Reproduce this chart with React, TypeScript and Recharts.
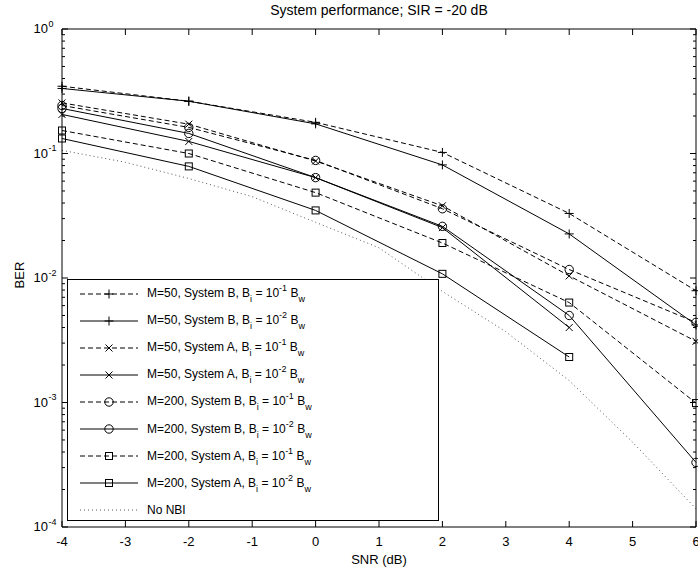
import { LineChart, Line, XAxis, YAxis, Legend } from 'recharts'

const FONT = '"Liberation Sans", Arial, Helvetica, sans-serif'

// SNR grid of the simulated curves and of the theory curve
const snrMarked = [-4, -2, 0, 2, 4, 6]
const snrNoNbi = [-4, -3, -2, -1, 0, 1, 2, 3, 4, 5, 6]

// BER
const m50B1 = [0.347, 0.263, 0.178, 0.102, 0.033, 0.0079]
const m50B2 = [0.333, 0.263, 0.173, 0.081, 0.0226, 0.0042]
const m50A1 = [0.255, 0.172, 0.087, 0.038, 0.0104, 0.0031]
const m50A2 = [0.206, 0.125, 0.064, 0.0254, 0.004, null]
const m200B1 = [0.243, 0.162, 0.088, 0.036, 0.0117, 0.0044]
const m200B2 = [0.23, 0.145, 0.064, 0.026, 0.005, 0.00033]
const m200A1 = [0.153, 0.1, 0.0485, 0.0191, 0.00635, 0.00099]
const m200A2 = [0.132, 0.0788, 0.0349, 0.0108, 0.00232, null]
const noNbi = [0.106, 0.085, 0.063, 0.045, 0.028, 0.0175, 0.0078, 0.0037, 0.0015, 0.00048, 0.00014]

const xTicks = [-4, -3, -2, -1, 0, 1, 2, 3, 4, 5, 6]
const yMajor = [1e-4, 1e-3, 1e-2, 1e-1, 1]
const yMinorSteps = [2, 3, 4, 5, 6, 7, 8, 9]
const yTicks = [
  ...yMajor.slice(0, -1).flatMap((d) => [d, ...yMinorSteps.map((m) => m * d)]),
  1,
]

type Shape = 'plus' | 'cross' | 'circle' | 'square'

const series: {
  key: string
  values: (number | null)[]
  m: string
  sys: string
  exp: string
  dashed: boolean
  shape: Shape
}[] = [
  { key: 'm50B1', values: m50B1, m: '50', sys: 'B', exp: '-1', dashed: true, shape: 'plus' },
  { key: 'm50B2', values: m50B2, m: '50', sys: 'B', exp: '-2', dashed: false, shape: 'plus' },
  { key: 'm50A1', values: m50A1, m: '50', sys: 'A', exp: '-1', dashed: true, shape: 'cross' },
  { key: 'm50A2', values: m50A2, m: '50', sys: 'A', exp: '-2', dashed: false, shape: 'cross' },
  { key: 'm200B1', values: m200B1, m: '200', sys: 'B', exp: '-1', dashed: true, shape: 'circle' },
  { key: 'm200B2', values: m200B2, m: '200', sys: 'B', exp: '-2', dashed: false, shape: 'circle' },
  { key: 'm200A1', values: m200A1, m: '200', sys: 'A', exp: '-1', dashed: true, shape: 'square' },
  { key: 'm200A2', values: m200A2, m: '200', sys: 'A', exp: '-2', dashed: false, shape: 'square' },
]

const data = snrNoNbi.map((x, i) => {
  const row: { [k: string]: number | null } = { snr: x, noNbi: noNbi[i] }
  const j = snrMarked.indexOf(x)
  series.forEach((s) => {
    row[s.key] = j >= 0 ? s.values[j] : null
  })
  return row
})

const DASH = '5 3'
const DOT = '1 3'

const Marker = ({ shape, cx, cy }: { shape: Shape; cx: number; cy: number }) => {
  const p = { stroke: '#000', strokeWidth: 1, fill: 'none' }
  if (shape === 'plus')
    return <path d={`M${cx - 4.5},${cy}H${cx + 4.5}M${cx},${cy - 4.5}V${cy + 4.5}`} {...p} />
  if (shape === 'cross')
    return (
      <path
        d={`M${cx - 3.5},${cy - 3.5}L${cx + 3.5},${cy + 3.5}M${cx - 3.5},${cy + 3.5}L${cx + 3.5},${cy - 3.5}`}
        {...p}
      />
    )
  if (shape === 'circle') return <circle cx={cx} cy={cy} r={4.2} {...p} />
  return <rect x={cx - 3.5} y={cy - 3.5} width={7} height={7} {...p} />
}

const dotFor = (shape: Shape, key: string) => (props: any) => {
  const { cx, cy, index, payload } = props
  if (payload == null || payload[key] == null || typeof cy !== 'number')
    return <g key={`${key}-${index}`} />
  return (
    <g key={`${key}-${index}`}>
      <Marker shape={shape} cx={cx} cy={cy} />
    </g>
  )
}

const isMajor = (v: number) => Math.abs(Math.log10(v) - Math.round(Math.log10(v))) < 1e-9

const BottomTick = (props: any) => {
  const { x, y, payload } = props
  return (
    <g>
      <line x1={x} y1={y} x2={x} y2={y - 6} stroke="#000" />
      <text x={x} y={y + 19} textAnchor="middle" fontSize={13} fontFamily={FONT} fill="#000">
        {payload.value}
      </text>
    </g>
  )
}

const TopTick = (props: any) => {
  const { x, y } = props
  return <line x1={x} y1={y} x2={x} y2={y + 6} stroke="#000" />
}

const LeftTick = (props: any) => {
  const { x, y, payload } = props
  const v = payload.value
  const major = isMajor(v)
  return (
    <g>
      <line x1={x} y1={y} x2={x + (major ? 6 : 3)} y2={y} stroke="#000" />
      {major && (
        <>
          <text x={x - 14} y={y + 4} textAnchor="end" fontSize={13} fontFamily={FONT} fill="#000">
            10
          </text>
          <text x={x - 13.5} y={y - 2.5} textAnchor="start" fontSize={9} fontFamily={FONT} fill="#000">
            {Math.round(Math.log10(v))}
          </text>
        </>
      )}
    </g>
  )
}

const RightTick = (props: any) => {
  const { x, y, payload } = props
  const major = isMajor(payload.value)
  return <line x1={x} y1={y} x2={x - (major ? 6 : 3)} y2={y} stroke="#000" />
}

const LegendBox = () => (
  <div
    style={{
      width: 370,
      height: 240,
      border: '1px solid #000',
      background: '#fff',
      fontFamily: FONT,
      fontSize: 12,
      color: '#000',
    }}
  >
    {series.map((s) => (
      <div key={s.key} style={{ height: 27.1, display: 'flex', alignItems: 'center' }}>
        <svg width={58} height={14} style={{ marginLeft: 12, flex: 'none' }}>
          <line x1={0} y1={7} x2={58} y2={7} stroke="#000" strokeDasharray={s.dashed ? DASH : undefined} />
          <Marker shape={s.shape} cx={29} cy={7} />
        </svg>
        <span style={{ marginLeft: 9, whiteSpace: 'nowrap', lineHeight: '14px' }}>
          M={s.m}, System {s.sys}, B
          <span style={{ fontSize: 9, position: 'relative', top: 5 }}>i</span> = 10
          <span style={{ fontSize: 9, position: 'relative', top: -6 }}>{s.exp}</span> B
          <span style={{ fontSize: 9, position: 'relative', top: 5 }}>w</span>
        </span>
      </div>
    ))}
    <div style={{ height: 27.1, display: 'flex', alignItems: 'center' }}>
      <svg width={58} height={14} style={{ marginLeft: 12, flex: 'none' }}>
        <line x1={0} y1={7} x2={58} y2={7} stroke="#555" strokeDasharray={DOT} />
      </svg>
      <span style={{ marginLeft: 9, lineHeight: '14px' }}>No NBI</span>
    </div>
  </div>
)

const App = () => {
  return (
    <div style={{ position: 'absolute', left: 0, top: 0, width: 698, height: 567, background: '#fff' }}>
      <LineChart width={698} height={567} data={data} margin={{ top: 28, right: 1, bottom: 0, left: 0 }}>
        <XAxis
          xAxisId="b"
          dataKey="snr"
          type="number"
          domain={[-4, 6]}
          ticks={xTicks}
          interval={0}
          height={40}
          tickSize={0}
          tickMargin={0}
          tickLine={false}
          axisLine={{ stroke: '#000' }}
          tick={BottomTick}
        />
        <XAxis
          xAxisId="t"
          orientation="top"
          dataKey="snr"
          type="number"
          domain={[-4, 6]}
          ticks={xTicks}
          interval={0}
          height={1}
          tickSize={0}
          tickMargin={0}
          tickLine={false}
          axisLine={{ stroke: '#000' }}
          tick={TopTick}
        />
        <YAxis
          yAxisId="l"
          scale="log"
          type="number"
          domain={[1e-4, 1]}
          allowDataOverflow
          ticks={yTicks}
          interval={0}
          width={62}
          tickSize={0}
          tickMargin={0}
          tickLine={false}
          axisLine={{ stroke: '#000' }}
          tick={LeftTick}
        />
        <YAxis
          yAxisId="r"
          orientation="right"
          scale="log"
          type="number"
          domain={[1e-4, 1]}
          allowDataOverflow
          ticks={yTicks}
          interval={0}
          width={1}
          tickSize={0}
          tickMargin={0}
          tickLine={false}
          axisLine={{ stroke: '#000' }}
          tick={RightTick}
        />
        <Legend
          layout="vertical"
          align="center"
          verticalAlign="middle"
          wrapperStyle={{ position: 'absolute', left: 67, top: 279, width: 372, height: 242 }}
          content={() => <LegendBox />}
        />
        <Line
          xAxisId="b"
          yAxisId="l"
          dataKey="noNbi"
          stroke="#555"
          strokeWidth={1}
          strokeDasharray={DOT}
          dot={false}
          activeDot={false}
          isAnimationActive={false}
        />
        {series.map((s) => (
          <Line
            key={s.key}
            xAxisId="b"
            yAxisId="l"
            dataKey={s.key}
            stroke="#000"
            strokeWidth={1}
            strokeDasharray={s.dashed ? DASH : undefined}
            connectNulls
            dot={dotFor(s.shape, s.key)}
            activeDot={false}
            isAnimationActive={false}
          />
        ))}
      </LineChart>
      <div
        style={{
          position: 'absolute',
          left: 229,
          top: 2,
          width: 300,
          textAlign: 'center',
          fontFamily: FONT,
          fontSize: 14,
          lineHeight: '16px',
        }}
      >
        System performance; SIR = -20 dB
      </div>
      <div
        style={{
          position: 'absolute',
          left: 279,
          top: 552,
          width: 200,
          textAlign: 'center',
          fontFamily: FONT,
          fontSize: 13,
          lineHeight: '15px',
        }}
      >
        SNR (dB)
      </div>
      <div
        style={{
          position: 'absolute',
          left: -10,
          top: 267,
          width: 60,
          textAlign: 'center',
          fontFamily: FONT,
          fontSize: 13,
          lineHeight: '16px',
          transform: 'rotate(-90deg)',
        }}
      >
        BER
      </div>
    </div>
  )
}

export default App
